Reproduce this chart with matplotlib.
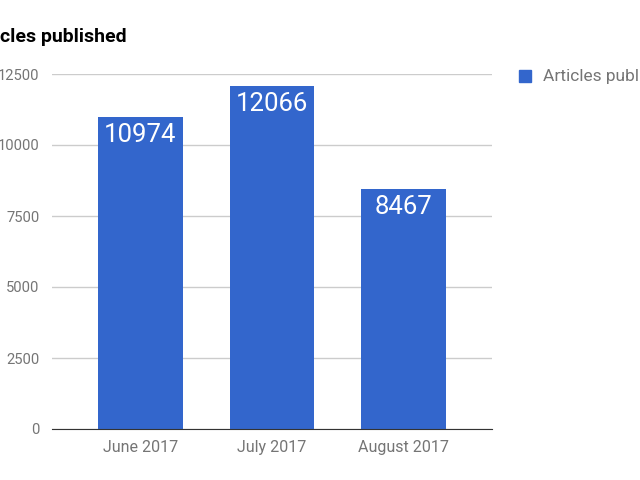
import matplotlib
matplotlib.use("Agg")
import matplotlib.pyplot as plt
from matplotlib.patches import Rectangle

plt.rcParams['font.family'] = ['Roboto', 'DejaVu Sans']

months = ['June 2017', 'July 2017', 'August 2017']
articles = [10974, 12066, 8467]
yticks = [0, 2500, 5000, 7500, 10000, 12500]
series_name = 'Articles published'

blue = '#3366cc'
grey = '#757575'

fig = plt.figure(figsize=(6.4, 4.8), dpi=100)
ax = fig.add_axes([52/640, 51/480, 440/640, 355/480])

x = range(len(months))
bars = ax.bar(x, articles, width=0.646, color=blue, zorder=3)
for b, v in zip(bars, articles):
    ax.annotate(str(v), (b.get_x() + b.get_width()/2, v), xytext=(0, -18),
                textcoords='offset pixels', ha='center', va='center',
                color='white', fontsize=18.5, zorder=4)

ax.set_xlim(-0.673, 2.673)
ax.set_ylim(0, 12500)
ax.set_yticks(yticks)
ax.set_yticklabels([str(t) for t in yticks])
ax.set_xticks(list(x))
ax.set_xticklabels(months)
ax.grid(axis='y', color='#cccccc', linewidth=1, zorder=0)
ax.set_axisbelow(True)
for s in ['top', 'right', 'left']:
    ax.spines[s].set_visible(False)
ax.spines['bottom'].set_color('#333333')
ax.spines['bottom'].set_zorder(5)
ax.tick_params(axis='both', length=0, colors=grey)
ax.tick_params(axis='y', pad=9, labelsize=10.6)
ax.tick_params(axis='x', pad=8, labelsize=11.5)

fig.text(-32/640, 1 - 37/480, series_name, fontsize=14, fontweight='bold',
         color='black', va='center', ha='left')

fig.patches.append(Rectangle((519/640, 1 - 82/480), 12/640, 12/480,
                             transform=fig.transFigure, color=blue))
fig.text(543/640, 1 - 76/480, series_name, fontsize=12.5, color=grey,
         va='center', ha='left')

fig.savefig('out.png', dpi=100)
